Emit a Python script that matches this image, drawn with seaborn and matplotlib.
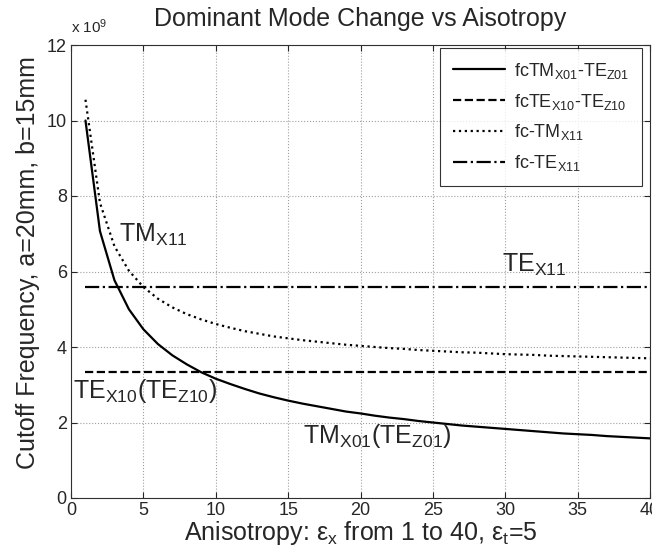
import numpy as np
import pandas as pd
import matplotlib
matplotlib.use("Agg")
import matplotlib.pyplot as plt
import seaborn as sns

# ---- data ----
eps_x = list(range(1, 41))
fc_tm_x01 = [10.00, 7.07, 5.77, 5.00, 4.47, 4.08, 3.78, 3.54, 3.33, 3.16,
             3.02, 2.89, 2.77, 2.67, 2.58, 2.50, 2.43, 2.36, 2.29, 2.24,
             2.18, 2.13, 2.09, 2.04, 2.00, 1.96, 1.92, 1.89, 1.86, 1.83,
             1.80, 1.77, 1.74, 1.71, 1.69, 1.67, 1.64, 1.62, 1.60, 1.58]
fc_te_x10 = [3.35] * 40
fc_tm_x11 = [10.55, 7.82, 6.67, 6.02, 5.59, 5.28, 5.05, 4.87, 4.73, 4.61,
             4.51, 4.42, 4.35, 4.28, 4.23, 4.18, 4.14, 4.10, 4.06, 4.03,
             4.00, 3.97, 3.95, 3.92, 3.90, 3.88, 3.86, 3.85, 3.83, 3.81,
             3.80, 3.79, 3.77, 3.76, 3.75, 3.74, 3.73, 3.72, 3.71, 3.70]
fc_te_x11 = [5.60] * 40

series_labels = [r"fcTM$_{\rm X01}$-TE$_{\rm Z01}$",
                 r"fcTE$_{\rm X10}$-TE$_{\rm Z10}$",
                 r"fc-TM$_{\rm X11}$",
                 r"fc-TE$_{\rm X11}$"]
x_ticks = [0, 5, 10, 15, 20, 25, 30, 35, 40]
y_ticks = [0, 2, 4, 6, 8, 10, 12]

sns.set_style("ticks")
plt.rcParams['font.family'] = ['Liberation Sans', 'DejaVu Sans']
plt.rcParams['mathtext.fontset'] = 'custom'
plt.rcParams['mathtext.rm'] = 'Liberation Sans'
plt.rcParams['mathtext.it'] = 'Liberation Sans'

fig = plt.figure(figsize=(6.52, 5.52), dpi=100)
ax = fig.add_axes([71/652, 54/552, 579/652, 453/552])

styles = ['-', '--', ':', '-.']
for vals, lab, ls in zip([fc_tm_x01, fc_te_x10, fc_tm_x11, fc_te_x11], series_labels, styles):
    df = pd.DataFrame({'x': eps_x, 'y': vals})
    sns.lineplot(data=df, x='x', y='y', ax=ax, color='black', linestyle=ls,
                 linewidth=1.6, label=lab)

ax.set_xlim(0, 40)
ax.set_ylim(0, 12)
ax.set_xticks(x_ticks)
ax.set_yticks(y_ticks)
ax.tick_params(direction='in', top=True, right=True, length=4, labelsize=13, width=0.8, pad=3)
ax.grid(True, linestyle=':', color='#a0a0a0', linewidth=0.8)
for s in ax.spines.values():
    s.set_color('#303030')
    s.set_linewidth(0.8)

ax.set_title("Dominant Mode Change vs Aisotropy", fontsize=18, pad=14)
ax.set_xlabel(r"Anisotropy: ε$_{\rm x}$ from 1 to 40, ε$_{\rm t}$=5", fontsize=18, labelpad=0)
ax.set_ylabel("Cutoff Frequency, a=20mm, b=15mm", fontsize=18)
ax.yaxis.set_label_coords(-0.054, 0.52)
ax.text(0, 1.02, r"x 10$^{9}$", transform=ax.transAxes, fontsize=11, ha='left', va='bottom')

ax.text(3.3, 6.8, r"TM$_{\rm X11}$", fontsize=18)
ax.text(29.8, 6.0, r"TE$_{\rm X11}$", fontsize=18)
ax.text(0.15, 2.65, r"TE$_{\rm X10}$(TE$_{\rm Z10}$)", fontsize=18)
ax.text(16.0, 1.45, r"TM$_{\rm X01}$(TE$_{\rm Z01}$)", fontsize=18)

leg = ax.legend(loc='upper right', bbox_to_anchor=(0.986, 0.993), borderaxespad=0,
                fontsize=13, handlelength=2.9, frameon=True, fancybox=False,
                labelspacing=0.6, handletextpad=0.5, borderpad=0.7)
leg.get_frame().set_edgecolor('black')
leg.get_frame().set_linewidth(0.8)

fig.savefig("out.png", dpi=100)
